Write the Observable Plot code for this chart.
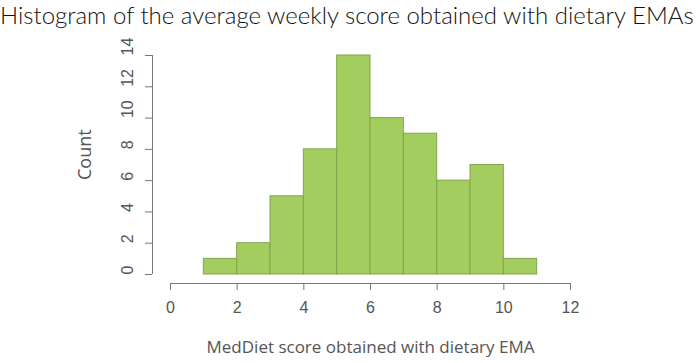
<!DOCTYPE html>
<html><head><meta charset="utf-8">
<script src="https://cdn.jsdelivr.net/npm/d3@7"></script>
<script src="https://cdn.jsdelivr.net/npm/@observablehq/plot@0.6"></script>
<style>
body{margin:0;background:#fff;width:700px;height:363px;overflow:hidden;}
#title{font-family:Lato,"Open Sans",sans-serif;font-weight:300;font-size:24px;height:36px;line-height:30px;white-space:nowrap;color:#111;margin:0;padding:0;}
svg{display:block;}
</style>
</head><body>
<div id="title">Histogram of the average weekly score obtained with dietary EMAs</div>
<div id="chart"></div>
<script>
const binStarts = [1, 2, 3, 4, 5, 6, 7, 8, 9, 10];
const binWidth = 1;
const counts = [1, 2, 5, 8, 14, 10, 9, 6, 7, 1];
const xTicks = [0, 2, 4, 6, 8, 10, 12];
const yTicks = [0, 2, 4, 6, 8, 10, 12, 14];
const xTitle = "MedDiet score obtained with dietary EMA";
const yTitle = "Count";

const bins = binStarts.map((s, i) => ({x0: s, x1: s + binWidth, count: counts[i]}));
const sans = "'Liberation Sans', Arial, sans-serif";

const plot = Plot.plot({
  width: 700, height: 327,
  marginLeft: 170, marginRight: 130, marginTop: 19, marginBottom: 89,
  x: {domain: [0, 12]},
  y: {domain: [0, 14]},
  style: {fontFamily: sans, fontSize: "16px", color: "#666", background: "#fff"},
  marks: [
    Plot.rectY(bins, {x1: "x0", x2: "x1", y: "count", fill: "#a3cd5e", stroke: "#83a44d", strokeWidth: 1}),
    Plot.ruleY([0], {x1: xTicks[0], x2: xTicks[xTicks.length - 1], dy: 9, stroke: "#777"}),
    Plot.axisX({ticks: xTicks, tickSize: 7, dy: 9, tickPadding: 11, label: null, stroke: "#777", fill: "#555", fontSize: "16px", fontFamily: sans}),
    Plot.ruleX([0], {y1: yTicks[0], y2: yTicks[yTicks.length - 1], dx: -18, stroke: "#777"}),
    Plot.axisY({ticks: yTicks, tickSize: 7, dx: -18, tickFormat: () => "", label: null, stroke: "#777"}),
    Plot.text(yTicks, {y: d => d, text: d => String(d), frameAnchor: "left", dx: -43, rotate: -90, fill: "#555", fontSize: "16px", fontFamily: sans}),
    Plot.text([xTitle], {text: d => d, frameAnchor: "bottom", dy: 78, fill: "#555", fontSize: "17px", fontFamily: "'Open Sans', sans-serif"}),
    Plot.text([yTitle], {text: d => d, frameAnchor: "left", dx: -85, dy: 15, rotate: -90, fill: "#555", fontSize: "18px", fontFamily: "'Open Sans', sans-serif"})
  ]
});
document.getElementById("chart").appendChild(plot);
</script>
</body></html>
